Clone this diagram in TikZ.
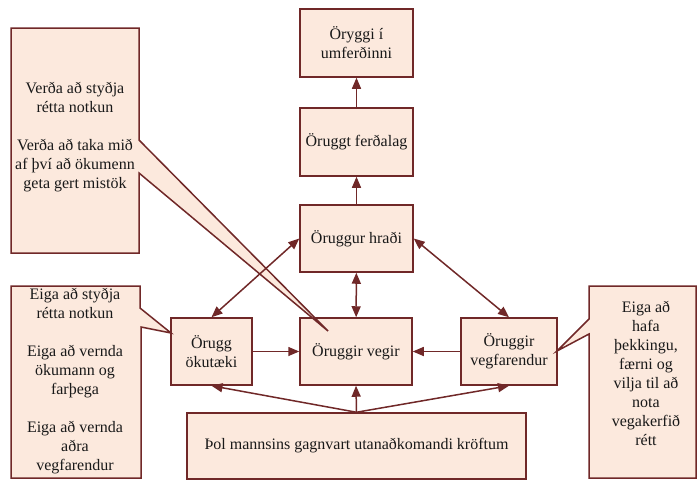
\documentclass[tikz,border=0pt]{standalone}
\usepackage{fontspec}
\setmainfont{Liberation Serif}
\newfontfamily\lserif{Liberation Serif}
\usetikzlibrary{arrows.meta}
\definecolor{boxfill}{RGB}{252,233,221}
\definecolor{boxline}{RGB}{112,40,40}
\begin{document}
\begin{tikzpicture}[x=1pt,y=-1pt,
  every node/.style={font=\lserif\fontsize{16}{19}\selectfont, text=black!90},
  mainbox/.style={draw=boxline, fill=boxfill, line width=1.5pt, inner sep=0pt, align=center},
  callout/.style={draw=boxline, fill=boxfill, line width=1.5pt, line join=miter},
  ctext/.style={align=center, inner sep=0pt},
  conn/.style={draw=boxline, line width=1.5pt, -{Triangle[length=11pt,width=9pt]}},
  bconn/.style={draw=boxline, line width=1.5pt, {Triangle[length=11pt,width=9pt]}-{Triangle[length=11pt,width=9pt]}}]
\useasboundingbox (0,0) rectangle (697,480);

% main boxes
\node[mainbox, minimum width=113pt, minimum height=68pt] (oryggi) at (356.5,43) {Öryggi í\\umferðinni};
\node[mainbox, minimum width=113pt, minimum height=68pt] (ferdalag) at (356.5,142) {Öruggt ferðalag};
\node[mainbox, minimum width=113pt, minimum height=67pt] (hradi) at (356.5,238.5) {Öruggur hraði};
\node[mainbox, minimum width=112pt, minimum height=67pt] (vegir) at (356,351.5) {Öruggir vegir};
\node[mainbox, minimum width=81pt, minimum height=67pt] (okutaeki) at (211.5,351.5) {Örugg\\ökutæki};
\node[mainbox, minimum width=96pt, minimum height=67pt] (vegfarendur) at (509,351.5) {Öruggir\\vegfarendur};
\node[mainbox, minimum width=339pt, minimum height=66pt] (thol) at (356.5,446) {Þol mannsins gagnvart utanaðkomandi kröftum};

% callouts
\coordinate (tipA) at (328,331);
\coordinate (tipB) at (171,333);
\coordinate (tipC) at (557,351);
\path[callout] (11,28) -- (139,28) -- (139,140) -- (tipA) -- (139,173) -- (139,253) -- (11,253) -- cycle;
\path[callout] (11,286) -- (140,286) -- (140,308) -- (tipB) -- (141,327) -- (141,478) -- (11,478) -- cycle;
\path[callout] (589,286) -- (696,286) -- (696,478) -- (589,478) -- (589,334) -- (tipC) -- (589,319) -- cycle;

\node[ctext] (ca) at (75,137) {Verða að styðja\\rétta notkun\\[19pt]Verða að taka mið\\af því að ökumenn\\geta gert mistök};
\node[ctext] (cb) at (75,381) {Eiga að styðja\\rétta notkun\\[19pt]Eiga að vernda\\ökumann og\\farþega\\[19pt]Eiga að vernda\\aðra\\vegfarendur};
\node[ctext] (cc) at (646,373) {Eiga að\\hafa\\þekkingu,\\færni og\\vilja til að\\nota\\vegakerfið\\rétt};

% connectors
\draw[conn] (ferdalag) -- (oryggi);
\draw[conn] (hradi) -- (ferdalag);
\draw[bconn] (hradi) -- (vegir);
\draw[bconn] (okutaeki.north) -- (hradi.west);
\draw[bconn] (vegfarendur.north) -- (hradi.east);
\draw[conn] (vegfarendur) -- (vegir);
\draw[conn] (okutaeki) -- (vegir);
\draw[conn] (thol.north) -- (okutaeki.south);
\draw[conn] (thol.north) -- (vegir.south);
\draw[conn] (thol.north) -- (vegfarendur.south);
\end{tikzpicture}
\end{document}
